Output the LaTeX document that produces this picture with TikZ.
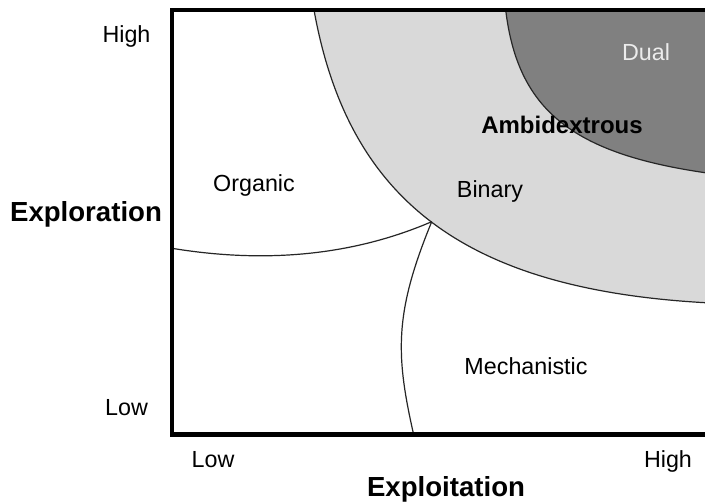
\documentclass[tikz,border=0pt]{standalone}
\usepackage{fontspec}
\setmainfont{Liberation Sans}
\begin{document}
\definecolor{binaryfill}{RGB}{217,217,217}
\definecolor{dualfill}{RGB}{128,128,128}
\definecolor{dualtext}{RGB}{236,236,236}
\begin{tikzpicture}[x=1pt,y=-1pt,
  lbl/.style={inner sep=0pt,anchor=base,font=\fontsize{23.3}{28}\selectfont},
  axislbl/.style={inner sep=0pt,anchor=base,font=\fontsize{27.6}{33}\selectfont\bfseries},
  border/.style={line width=4.8pt,line join=miter},
  divider/.style={line width=1.2pt,draw=black!85}]
  % canvas
  \fill[white] (0,0) rectangle (705,503);
  \useasboundingbox (0,0) rectangle (705,503);

  % curve end points
  \coordinate (obTop) at (314,10);
  \coordinate (obRight) at (705,302.7);
  \coordinate (dbTop) at (505.7,10);
  \coordinate (dbRight) at (705,172.7);
  \coordinate (meet) at (431.7,221.7);
  \coordinate (orgLeft) at (172,248.3);
  \coordinate (mechBot) at (413.3,433);

  % binary (light) region
  \fill[binaryfill] (obTop) .. controls (348.4,201.2) and (465.7,289.1) .. (obRight)
     -- (730,304) -- (730,10) -- cycle;
  % dual (dark) region
  \fill[dualfill] (dbTop) .. controls (517.6,109.3) and (571.4,153.2) .. (dbRight)
     -- (730,175) -- (730,10) -- cycle;

  % region boundaries
  \draw[divider] (obTop) .. controls (348.4,201.2) and (465.7,289.1) .. (obRight) -- (730,304);
  \draw[divider] (dbTop) .. controls (517.6,109.3) and (571.4,153.2) .. (dbRight) -- (730,175);
  \draw[divider] (orgLeft) .. controls (255,262) and (345,259) .. (meet);
  \draw[divider] (meet) .. controls (394.8,311.7) and (395.2,353) .. (mechBot);

  % frame
  \draw[border] (740,10) -- (172,10) -- (172,434.5) -- (740,434.5);

  % region labels
  \node[lbl,text=dualtext] (dual) at (646,61) {Dual};
  \node[inner sep=0pt,anchor=base,font=\fontsize{24}{29}\selectfont\bfseries] (ambi) at (562,134) {Ambidextrous};
  \node[lbl] (organic) at (254,191) {Organic};
  \node[lbl] (binary) at (490,197) {Binary};
  \node[lbl] (mech) at (526,374) {Mechanistic};

  % axis labels
  \node[lbl] (yhigh) at (126.5,43) {High};
  \node[lbl] (ylow) at (126.5,415) {Low};
  \node[axislbl] (ytitle) at (86,221.7) {Exploration};
  \node[lbl] (xlow) at (213,467.7) {Low};
  \node[lbl] (xhigh) at (668,467.7) {High};
  \node[axislbl] (xtitle) at (446,496) {Exploitation};
\end{tikzpicture}
\end{document}
